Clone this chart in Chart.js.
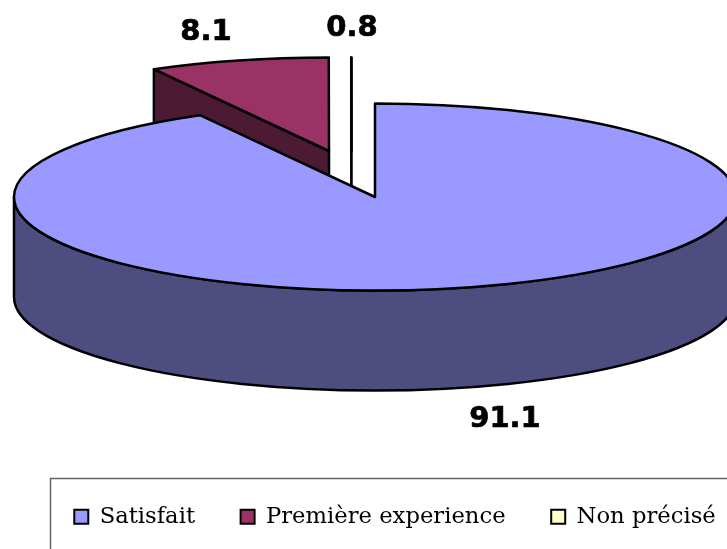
<!DOCTYPE html>
<html>
<head>
<meta charset="utf-8">
<style>html,body{margin:0;padding:0;background:#fff;overflow:hidden;width:727px;height:549px}canvas{display:block}</style>
<script src="https://cdn.jsdelivr.net/npm/chart.js@4"></script>
</head>
<body>
<canvas id="c" width="760" height="549"></canvas>
<script>
const categories = ['Satisfait', 'Première experience', 'Non précisé'];
// Values printed on the chart.
const printedValues = ['91.1', '8.1', '0.8'];
// Slice spans (its wedges do not follow the printed values exactly).
const drawnShares = [91.94, 8.05, 0.01];
const topColors = ['#9999FF', '#993366', '#FFFFCC'];
const wallColors = ['#4D4D80', '#4D1A33', '#808066'];

// Projection of the pie on the page
const view = { cx: 375, cy: 197, rx: 361, ry: 93.5, depth: 100 };
const explode = [[0, 0], [-46, -46], [-23.5, -46]];
const labelSpots = [[505, 419], [206, 32], [352, 28]];
const frame = { x: 50.5, y: 478.5 };
const outline = 2.5;

function proj(chart, arc) {
  const R = arc.outerRadius;
  return {
    x: view.cx + (arc.x - chart._base.x) * view.rx / R,
    y: view.cy + (arc.y - chart._base.y) * view.ry / R
  };
}

const pie3d = {
  id: 'pie3d',
  afterLayout(chart) {
    const lg = chart.legend;
    lg.top -= 11; lg.bottom -= 11;
    lg.left += 15; lg.right += 15;
  },
  afterDatasetsUpdate(chart) {
    const arcs = chart.getDatasetMeta(0).data;
    chart._base = { x: chart.chartArea.left + chart.chartArea.width / 2,
                    y: chart.chartArea.top + chart.chartArea.height / 2 };
    arcs.forEach((a, i) => {
      const R = a.outerRadius;
      a.x = chart._base.x + explode[i][0] * R / view.rx;
      a.y = chart._base.y + explode[i][1] * R / view.ry;
    });
  },
  beforeDatasetsDraw(chart) {
    const ctx = chart.ctx;
    const arcs = chart.getDatasetMeta(0).data;
    ctx.save();
    ctx.lineWidth = outline; ctx.strokeStyle = '#000'; ctx.lineJoin = 'round'; ctx.lineCap = 'round';
    arcs.forEach((a, i) => {
      const p = proj(chart, a);
      ctx.fillStyle = wallColors[i];
      // cut face seen by the viewer
      const faces = [[a.startAngle, Math.cos(a.startAngle) < 0], [a.endAngle, Math.cos(a.endAngle) > 1e-6]];
      faces.forEach(([t, vis]) => {
        if (!vis) return;
        const ex = p.x + view.rx * Math.cos(t), ey = p.y + view.ry * Math.sin(t);
        const d = view.depth;
        ctx.beginPath();
        ctx.moveTo(p.x, p.y); ctx.lineTo(ex, ey); ctx.lineTo(ex, ey + d); ctx.lineTo(p.x, p.y + d);
        ctx.closePath(); ctx.fill();
        // edges stroked one by one so a very thin face still shows its line
        ctx.beginPath();
        ctx.moveTo(p.x, p.y); ctx.lineTo(ex, ey);
        ctx.moveTo(ex, ey); ctx.lineTo(ex, ey + d);
        ctx.moveTo(ex, ey + d); ctx.lineTo(p.x, p.y + d);
        ctx.moveTo(p.x, p.y + d); ctx.lineTo(p.x, p.y);
        ctx.stroke();
      });
      // outer rim on the front half
      const s = Math.max(a.startAngle, 0), e = Math.min(a.endAngle, Math.PI);
      if (e > s) {
        ctx.beginPath();
        ctx.ellipse(p.x, p.y, view.rx, view.ry, 0, s, e);
        ctx.ellipse(p.x, p.y + view.depth, view.rx, view.ry, 0, e, s, true);
        ctx.closePath(); ctx.fill(); ctx.stroke();
      }
    });
    ctx.restore();
    // tops are drawn by the library, flattened on the page
    const R = arcs[0].outerRadius;
    ctx.save();
    ctx.translate(view.cx, view.cy);
    ctx.scale(view.rx / R, view.ry / R);
    ctx.translate(-chart._base.x, -chart._base.y);
  },
  afterDatasetsDraw(chart) {
    const ctx = chart.ctx;
    ctx.restore();
    const arcs = chart.getDatasetMeta(0).data;
    ctx.save();
    ctx.lineWidth = outline; ctx.strokeStyle = '#000'; ctx.lineJoin = 'round';
    arcs.forEach(a => {
      const p = proj(chart, a);
      ctx.beginPath();
      ctx.moveTo(p.x, p.y);
      ctx.ellipse(p.x, p.y, view.rx, view.ry, 0, a.startAngle, a.endAngle);
      ctx.closePath();
      ctx.stroke();
    });
    ctx.font = 'bold 29px "DejaVu Sans"';
    ctx.fillStyle = '#000';
    ctx.lineWidth = 0.7;
    ctx.textAlign = 'center'; ctx.textBaseline = 'middle';
    printedValues.forEach((v, i) => {
      ctx.fillText(v, labelSpots[i][0], labelSpots[i][1]);
      ctx.strokeText(v, labelSpots[i][0], labelSpots[i][1]);
    });
    ctx.lineWidth = 1.5; ctx.strokeStyle = '#666';
    ctx.strokeRect(frame.x, frame.y, 800, 200);
    ctx.restore();
  }
};

new Chart(document.getElementById('c'), {
  type: 'pie',
  data: {
    labels: categories,
    datasets: [{ data: drawnShares, backgroundColor: topColors, borderWidth: 0, hoverOffset: 0, clip: false }]
  },
  options: {
    responsive: false,
    animation: false,
    rotation: 0,
    layout: { padding: 0 },
    plugins: {
      tooltip: { enabled: false },
      legend: {
        position: 'bottom',
        labels: {
          font: { family: '"DejaVu Serif"', size: 22.7 },
          color: '#000',
          boxWidth: 14,
          boxHeight: 14,
          padding: 45.6,
          generateLabels(chart) {
            return Chart.overrides.pie.plugins.legend.labels.generateLabels(chart).map(l => {
              l.strokeStyle = '#000'; l.lineWidth = 2; return l;
            });
          }
        }
      }
    }
  },
  plugins: [pie3d]
});
</script>
</body>
</html>
